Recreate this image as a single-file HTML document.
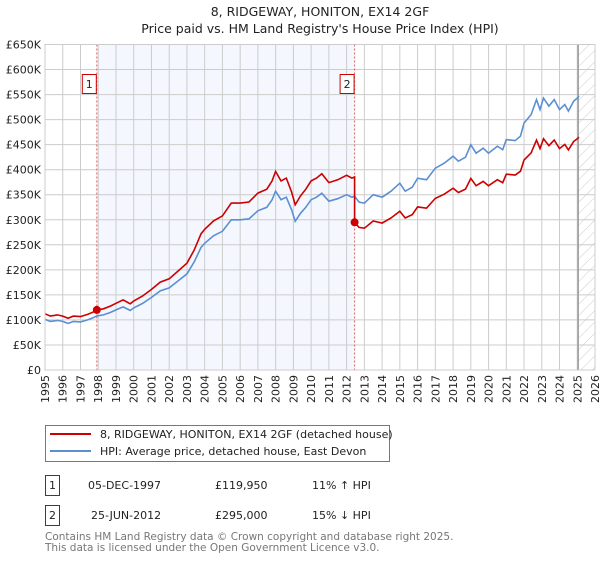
<!DOCTYPE html>
<html><head><meta charset="utf-8"><style>
body{margin:0;background:#fff;width:600px;height:560px;overflow:hidden;font-family:"DejaVu Sans","Liberation Sans",sans-serif;}
svg text{font-family:"DejaVu Sans","Liberation Sans",sans-serif;}
</style></head><body>
<svg id="c" width="600" height="560" xmlns="http://www.w3.org/2000/svg">
<text x="320" y="16" text-anchor="middle" font-size="12.5" fill="#222">8, RIDGEWAY, HONITON, EX14 2GF</text>
<text x="320" y="33" text-anchor="middle" font-size="12.5" fill="#222">Price paid vs. HM Land Registry's House Price Index (HPI)</text>
<g id="plot"></g>
<g>
<rect x="45.5" y="425.5" width="344" height="36" fill="#fff" stroke="#777"/>
<line x1="50" y1="434" x2="91" y2="434" stroke="#cc0000" stroke-width="2"/>
<text x="100" y="438" font-size="11" fill="#222">8, RIDGEWAY, HONITON, EX14 2GF (detached house)</text>
<line x1="50" y1="451" x2="91" y2="451" stroke="#5b8fd4" stroke-width="2"/>
<text x="100" y="455" font-size="11" fill="#222">HPI: Average price, detached house, East Devon</text>
</g>
<g font-size="11" fill="#222">
<rect x="45.5" y="475.5" width="14" height="20" fill="none" stroke="#cc0000"/>
<text x="52.5" y="489" text-anchor="middle">1</text>
<text x="88" y="489">05-DEC-1997</text>
<text x="215" y="489">£119,950</text>
<text x="312" y="489">11% ↑ HPI</text>
<rect x="45.5" y="505.5" width="14" height="20" fill="none" stroke="#cc0000"/>
<text x="52.5" y="519" text-anchor="middle">2</text>
<text x="91" y="519">25-JUN-2012</text>
<text x="215" y="519">£295,000</text>
<text x="312" y="519">15% ↓ HPI</text>
</g>
<text x="45" y="540" font-size="10.5" fill="#777">Contains HM Land Registry data © Crown copyright and database right 2025.</text>
<text x="45" y="551" font-size="10.5" fill="#777">This data is licensed under the Open Government Licence v3.0.</text>
</svg>
<script>
const hpiYears=[1995.0,1995.3,1995.7,1996.0,1996.3,1996.6,1997.0,1997.4,1997.7,1997.92,1998.3,1998.7,1999.0,1999.4,1999.8,2000.0,2000.5,2001.0,2001.5,2002.0,2002.5,2003.0,2003.4,2003.8,2004.0,2004.5,2005.0,2005.5,2006.0,2006.5,2007.0,2007.5,2007.8,2008.0,2008.3,2008.6,2008.9,2009.1,2009.4,2009.7,2010.0,2010.3,2010.6,2011.0,2011.5,2012.0,2012.3,2012.45,2012.7,2013.0,2013.5,2014.0,2014.5,2015.0,2015.3,2015.7,2016.0,2016.5,2017.0,2017.5,2018.0,2018.3,2018.7,2019.0,2019.3,2019.7,2020.0,2020.5,2020.8,2021.0,2021.5,2021.8,2022.0,2022.4,2022.7,2022.9,2023.1,2023.4,2023.7,2024.0,2024.3,2024.5,2024.8,2025.0,2025.1];
const hpiValues=[101,97,99,97,93,97,96,100,104,108,110,115,120,126,119,124,133,145,158,164,178,192,215,245,253,268,277,300,300,302,318,325,340,357,340,345,320,297,313,325,340,345,353,337,342,350,345,347,335,333,350,345,357,373,357,365,383,380,403,413,427,417,425,450,433,443,433,447,440,460,458,467,493,510,540,520,543,527,540,520,530,517,537,543,547];
const saleYears=[1997.92,2012.45];
const salePrices=[119950,295000];
const saleLabels=["1","2"];
const yTicks=[0,50,100,150,200,250,300,350,400,450,500,550,600,650];
const yTickLabels=["£0","£50K","£100K","£150K","£200K","£250K","£300K","£350K","£400K","£450K","£500K","£550K","£600K","£650K"];
const xTicks=[1995,1996,1997,1998,1999,2000,2001,2002,2003,2004,2005,2006,2007,2008,2009,2010,2011,2012,2013,2014,2015,2016,2017,2018,2019,2020,2021,2022,2023,2024,2025,2026];
const dataEnd=2025.05;

const NS="http://www.w3.org/2000/svg";
const X0=45,X1=595,Y0=370,Y1=44.5;
const xs=y=>X0+(y-1995)/(2026-1995)*(X1-X0);
const ys=v=>Y0-v/650*(Y0-Y1);
const g=document.getElementById('plot');
function mk(t,a){const e=document.createElementNS(NS,t);for(const k in a)e.setAttribute(k,a[k]);g.appendChild(e);return e;}
function hpiAt(yr){for(let i=1;i<hpiYears.length;i++){if(yr<=hpiYears[i]){const t=(yr-hpiYears[i-1])/(hpiYears[i]-hpiYears[i-1]);return hpiValues[i-1]+t*(hpiValues[i]-hpiValues[i-1]);}}return hpiValues[hpiValues.length-1];}

let e=mk('rect',{x:xs(saleYears[0]),y:Y1,width:xs(saleYears[1])-xs(saleYears[0]),height:Y0-Y1,fill:'#f4f7fe'});


const defs=mk('defs',{});
defs.innerHTML='<pattern id="hatch" width="8" height="8" patternUnits="userSpaceOnUse" patternTransform="rotate(45)"><line x1="0" y1="0" x2="0" y2="8" stroke="#ccc" stroke-width="1"/></pattern>';
e=mk('rect',{x:xs(dataEnd),y:Y1,width:X1-xs(dataEnd),height:Y0-Y1,fill:'url(#hatch)'});


yTicks.forEach((v,i)=>{
 let l=mk('line',{x1:X0,x2:X1,y1:ys(v),y2:ys(v),stroke:'#ccc','stroke-width':1});
 
 
 let t=mk('text',{x:41,y:ys(v)+4,'text-anchor':'end','font-size':11,fill:'#222'});
 t.textContent=yTickLabels[i];
 
 
});
xTicks.forEach(yr=>{
 let l=mk('line',{x1:xs(yr),x2:xs(yr),y1:Y1,y2:Y0,stroke:'#ccc','stroke-width':1});
 
 
 let t=mk('text',{x:0,y:0,'text-anchor':'end','font-size':11,fill:'#222',transform:`translate(${xs(yr)+4},375) rotate(-90)`});
 t.textContent=yr;
 
 
});
e=mk('line',{x1:xs(dataEnd),x2:xs(dataEnd),y1:Y1,y2:Y0,stroke:'#888','stroke-width':1.2});


saleYears.forEach((yr,i)=>{
 let l=mk('line',{x1:xs(yr),x2:xs(yr),y1:Y1,y2:Y0,stroke:'#e06060','stroke-width':1,'stroke-dasharray':'2,2'});
 
 
});
let hp=hpiYears.map((yr,i)=>xs(yr).toFixed(1)+','+ys(hpiValues[i]).toFixed(1)).join(' ');
e=mk('polyline',{points:hp,fill:'none',stroke:'#5b8fd4','stroke-width':1.6});


const pts=[];
const f0=salePrices[0]/1000/hpiAt(saleYears[0]);
const f1=salePrices[1]/1000/hpiAt(saleYears[1]);
hpiYears.forEach((yr,i)=>{
 if(yr<saleYears[1]) pts.push([yr,hpiValues[i]*f0]);
});
pts.push([saleYears[1],hpiAt(saleYears[1])*f0]);
pts.push([saleYears[1],salePrices[1]/1000]);
hpiYears.forEach((yr,i)=>{ if(yr>saleYears[1]) pts.push([yr,hpiValues[i]*f1]); });
e=mk('polyline',{points:pts.map(p=>xs(p[0]).toFixed(1)+','+ys(p[1]).toFixed(1)).join(' '),fill:'none',stroke:'#cc0000','stroke-width':1.6});


saleYears.forEach((yr,i)=>{
 let c=mk('circle',{cx:xs(yr),cy:ys(salePrices[i]/1000),r:4,fill:'#cc0000'});
 
 
 let r=mk('rect',{x:xs(yr)-14.5,y:74.5,width:14,height:19,fill:'#fff',stroke:'#cc0000'});
 
 
 let t=mk('text',{x:xs(yr)-7.5,y:88,'text-anchor':'middle','font-size':11,fill:'#222'});
 t.textContent=saleLabels[i];
 
 
});
let ax=mk('rect',{x:X0,y:Y1,width:X1-X0,height:Y0-Y1,fill:'none',stroke:'#ccc'});


</script>
</body></html>
